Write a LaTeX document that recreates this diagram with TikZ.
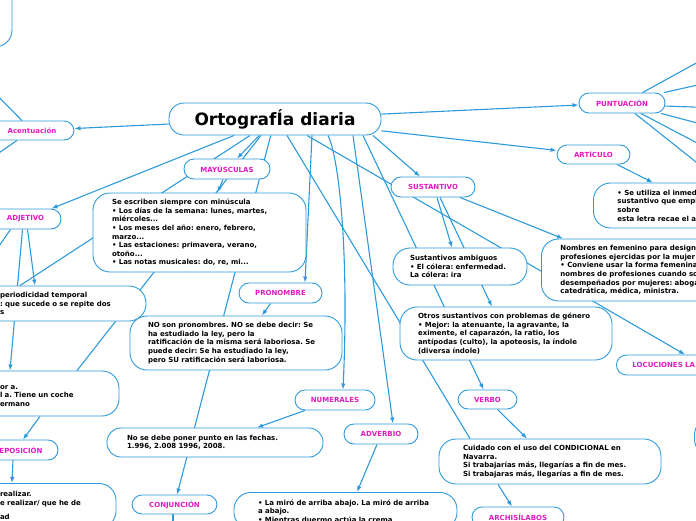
\documentclass[tikz,border=0pt]{standalone}
\usepackage{fontspec}
\setmainfont{DejaVu Sans}
\usepackage{tikz}
\usetikzlibrary{arrows.meta,backgrounds}
\definecolor{mapblue}{HTML}{2D9BDB}
\definecolor{topicpink}{HTML}{E01BC3}
\frenchspacing
\tikzset{
    mapbox/.style={draw=mapblue, line width=0.9pt, fill=white, inner sep=0pt},
    titlenode/.style={mapbox, rounded corners=15pt, font=\fontsize{17}{20}\selectfont\bfseries, minimum width=212pt, minimum height=32pt},
    topicnode/.style={mapbox, rounded corners=10pt, text=topicpink, font=\fontsize{7}{8.6}\selectfont\bfseries, minimum height=20pt},
    notenode/.style={mapbox, rounded corners=17pt, align=left, font=\fontsize{7}{8.6}\selectfont\bfseries\frenchspacing},
    maplink/.style={draw=mapblue, line width=1.1pt},
    maparrow/.style={maplink, -{Latex[length=6pt,width=4.5pt]}}
}

\begin{document}
\begin{tikzpicture}[x=1pt, y=-1pt]
        \useasboundingbox (0,0) rectangle (696,520);
        \clip (0,0) rectangle (696,520);

        \node[titlenode] (title) at (275,119) {OrtografÍa diaria};

        % left branch
        \node[notenode, minimum width=72pt, minimum height=87pt] (topleft) at (-24,3.5) {};
        \node[topicnode, minimum width=84pt, minimum height=19pt] (acent) at (32,130.5) {Acentuación};
        \node[topicnode, minimum width=71pt] (adjetivo) at (25.5,219) {ADJETIVO};
        \node[notenode, minimum width=166pt, minimum height=35pt, text width=126pt] (periodic) at (63,303.5) {periodicidad temporal\\: que sucede o se repite dos\\s};
        \node[notenode, minimum width=149pt, minimum height=45pt, text width=89pt] (prep) at (44.5,393.5) {\mbox{}\\or a.\\l a. Tiene un coche\\ermano};
        \node[topicnode, minimum width=74pt] (prepos) at (21,450) {EPOSICIÓN};
        \node[notenode, anchor=north, inner ysep=8pt, minimum width=146pt, text width=86pt] (realizar) at (43,483) {realizar.\\e realizar/ que he de\\[6pt]ad};

        % middle branch
        \node[topicnode, minimum width=86pt] (mayus) at (227,169) {MAYÚSCULAS};
        \node[notenode, minimum width=213pt, minimum height=79pt, text width=175pt] (minus) at (199.5,232.5) {Se escriben siempre con minúscula\\• Los días de la semana: lunes, martes,\\miércoles...\\• Los meses del año: enero, febrero,\\marzo...\\• Las estaciones: primavera, verano,\\otoño...\\• Las notas musicales: do, re, mi...};
        \node[topicnode, minimum width=83pt] (pronombre) at (280.5,293) {PRONOMBRE};
        \node[notenode, minimum width=212pt, minimum height=54pt, text width=176pt] (noson) at (236,343) {NO son pronombres. NO se debe decir: Se\\ha estudiado la ley, pero la\\ratificación de la misma será laboriosa. Se\\puede decir: Se ha estudiado la ley,\\pero SU ratificación será laboriosa.};
        \node[topicnode, minimum width=80pt] (numerales) at (335,400) {NUMERALES};
        \node[notenode, rounded corners=14pt, minimum width=216pt, minimum height=29pt, text width=176pt] (fechas) at (215,442.5) {No se debe poner punto en las fechas.\\1.996, 2.008 1996, 2008.};
        \node[topicnode, minimum width=74pt] (adverbio) at (381,434) {ADVERBIO};
        \node[notenode, anchor=north, inner ysep=7pt, minimum width=223pt, text width=175pt] (miro) at (345.5,492) {• La miró de arriba abajo. La miró de arriba\\a abajo.\\• Mientras duermo actúa la crema};
        \node[topicnode, minimum width=85pt, minimum height=19pt] (conjuncion) at (174.5,504.5) {CONJUNCIÓN};

        % right branch
        \node[topicnode, minimum width=86pt] (puntuacion) at (622,103) {PUNTUACIÓN};
        \node[topicnode, minimum width=73pt, minimum height=19pt] (articulo) at (593.5,154.5) {ARTÍCULO};
        \node[notenode, anchor=west, minimum width=300pt, minimum height=45pt, text width=252pt] (inmediato) at (593,205.5) {• Se utiliza el inmed\\sustantivo que empl\\sobre\\esta letra recae el ac};
        \node[topicnode, minimum width=84pt] (sustantivo) at (433,187) {SUSTANTIVO};
        \node[notenode, minimum width=134pt, minimum height=37pt, text width=100pt] (ambiguos) at (460,266.5) {Sustantivos ambiguos\\• El cólera: enfermedad.\\La cólera: ira};
        \node[notenode, anchor=west, minimum width=309pt, minimum height=62pt, text width=271pt] (femenino) at (541,270) {Nombres en femenino para designa\\profesiones ejercidas por la mujer\\• Conviene usar la forma femenina\\nombres de profesiones cuando so\\desempeñados por mujeres: aboga\\catedrática, médica, ministra.};
        \node[notenode, minimum width=212pt, minimum height=53pt, text width=176pt] (otros) at (506,333.5) {Otros sustantivos con problemas de género\\• Mejor: la atenuante, la agravante, la\\eximente, el caparazón, la ratio, los\\antípodas (culto), la apoteosis, la índole\\(diversa índole)};
        \node[topicnode, anchor=west, inner xsep=16pt] (locuc) at (616,365) {LOCUCIONES LA};
        \node[topicnode, minimum width=59pt, minimum height=19pt] (verbo) at (487.5,399.5) {VERBO};
        \node[notenode, minimum width=222pt, minimum height=45pt, text width=174pt] (condic) at (550,461.5) {Cuidado con el uso del CONDICIONAL en\\Navarra.\\Si trabajarías más, llegarías a fin de mes.\\Si trabajaras más, llegarías a fin de mes.};
        \node[topicnode, minimum width=92pt] (archi) at (518,517) {ARCHISÍLABOS};
        \node[notenode, anchor=west, minimum width=100pt, minimum height=38pt] (rbox) at (694,437) {};

        % free ends
        \coordinate (acentout1) at (-20,78);
        \coordinate (acentout2) at (-20,166);
        \coordinate (adjout) at (-12,262);
        \coordinate (conjout) at (173,540);
        \coordinate (puntout1) at (720,50);
        \coordinate (puntout2) at (720,80);
        \coordinate (puntout3) at (720,108);
        \coordinate (puntout4) at (720,129);
        \coordinate (puntout5) at (720,155);
        \coordinate (puntout6) at (720,181);

        \begin{scope}[on background layer]
        \draw[maparrow] (title) -- (acent);
        \draw[maparrow] (title) -- (puntuacion);
        \draw[maparrow] (title) -- (articulo);
        \draw[maparrow] (title) -- (adjetivo);
        \draw[maparrow] (title) -- (mayus);
        \draw[maplink] ([xshift=-25]title.south) -- ([xshift=-43]periodic.north);
        \draw[maplink] ([xshift=-14]title.south) -- ([xshift=32.5]prep.north);
        \draw[maparrow] (title) -- (conjuncion);
        \draw[maparrow] ([xshift=37]title.south) -- ([xshift=24.5]pronombre.north);
        \draw[maparrow] ([xshift=53]title.south) .. controls (340,160) and (349,260) .. ([xshift=8]numerales.north);
        \draw[maparrow] ([xshift=78]title.south) -- ([xshift=12]adverbio.north);
        \draw[maplink] ([xshift=12]title.south) -- ([xshift=-80]condic.north);
        \draw[maparrow] ([xshift=32]title.south) -- ([xshift=69]locuc.north west);
        \draw[maparrow] ([xshift=98]title.south) -- ([xshift=-13]sustantivo.north);
        \draw[maparrow] ([xshift=88]title.south) -- ([xshift=-4]verbo.north);

        \draw[maplink] ([xshift=-10]acent.north) -- (acentout1);
        \draw[maplink] ([xshift=-15]acent.south) -- (acentout2);
        \draw[maparrow] ([xshift=2]adjetivo.south) -- ([xshift=-28]periodic.north);
        \draw[maparrow] ([xshift=-3]adjetivo.south) -- ([xshift=-34.5]prep.north);
        \draw[maplink] ([xshift=-15]adjetivo.south) -- (adjout);
        \draw[maparrow] ([xshift=-4.5]prep.south) -- ([xshift=2]prepos.north);
        \draw[maparrow] ([xshift=-8]prepos.south) -- ([xshift=-31]realizar.north);

        \draw[maparrow] ([xshift=-4]mayus.south) -- ([xshift=18]minus.north);
        \draw[maparrow] ([xshift=-10]pronombre.south) -- ([xshift=26]noson.north);
        \draw[maparrow] ([xshift=-30]numerales.south) -- ([xshift=42]fechas.north);
        \draw[maparrow] ([xshift=-4]adverbio.south) -- ([xshift=11.5]miro.north);
        \draw[maplink] ([xshift=-1.5]conjuncion.south) -- (conjout);

        \foreach \ang/\k in {27/1, 14/2, -4/3, -15/4, -29/5, -39/6}
            \draw[maplink] (puntuacion.\ang) -- (puntout\k);
        \draw[maparrow] ([xshift=23.5]articulo.south) -- ([xshift=60]inmediato.north west);
        \draw[maparrow] ([xshift=4]sustantivo.south) -- ([xshift=-8]ambiguos.north);
        \draw[maparrow] ([xshift=7]sustantivo.south) -- ([xshift=-14]otros.north);
        \draw[maparrow] ([xshift=27]sustantivo.south) -- ([xshift=22]femenino.north west);
        \draw[maparrow] ([xshift=10]verbo.south) -- ([xshift=-23]condic.north);
        \draw[maparrow] ([xshift=-52]condic.south) -- ([xshift=-6]archi.north);
        \end{scope}
    \end{tikzpicture}
\end{document}
